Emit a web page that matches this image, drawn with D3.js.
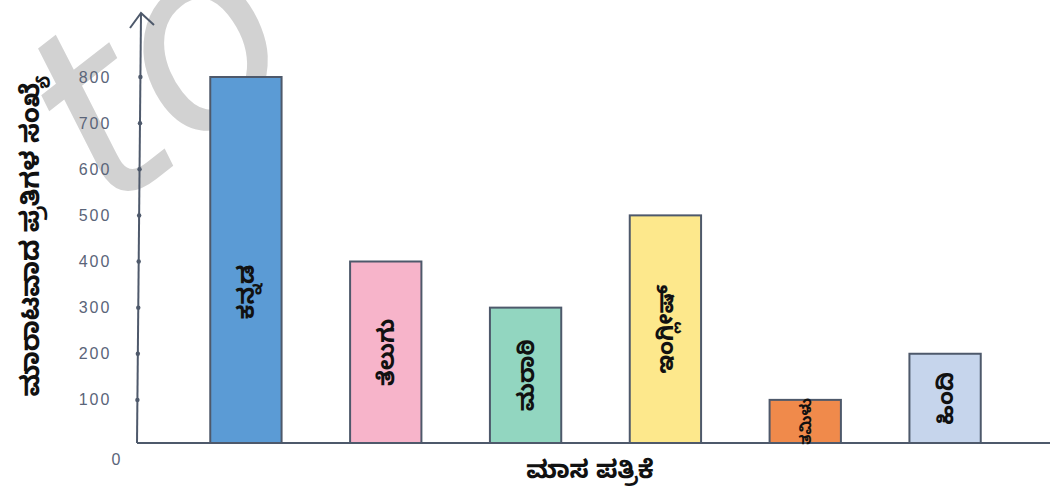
<!DOCTYPE html>
<html>
<head>
<meta charset="utf-8">
<script src="https://cdn.jsdelivr.net/npm/d3@7"></script>
<style>
  body { margin: 0; background: #fff; }
  svg { display: block; }
</style>
</head>
<body>
<div id="chart"></div>
<script>
const papers = ['ಕನ್ನಡ', 'ತೆಲುಗು', 'ಮರಾಠಿ', 'ಇಂಗ್ಲೀಷ್', 'ತಮಿಳು', 'ಹಿಂದಿ'];
const copiesSold = [800, 400, 300, 500, 100, 200];
const barColors = ['#5b9bd5', '#f7b4ca', '#92d6c0', '#fde88c', '#f08a4b', '#c6d5ec'];
const yTicks = [0, 100, 200, 300, 400, 500, 600, 700, 800];
const xTitle = 'ಮಾಸ ಪತ್ರಿಕೆ';
const yTitle = 'ಮಾರಾಟವಾದ ಪ್ರತಿಗಳ ಸಂಖ್ಯೆ';

const width = 1055;
const height = 496;
const axisColor = '#4e596b';
const kannadaFont = '"Noto Sans Kannada", "Noto Sans", sans-serif';

const svg = d3.select('#chart').append('svg')
  .attr('width', width)
  .attr('height', height);

// faint watermark from the scan
svg.append('text')
  .attr('transform', 'translate(110,215) rotate(-38)')
  .attr('font-family', 'DejaVu Sans, sans-serif')
  .attr('font-style', 'italic')
  .attr('font-size', 250)
  .attr('fill', '#d2d2d2')
  .text('to');

const x = d3.scaleBand()
  .domain(papers)
  .range([176, 1015])
  .paddingInner(0.49)
  .paddingOuter(0.245);

const y = d3.scaleLinear()
  .domain([0, 800])
  .range([446, 77]);

const data = papers.map((p, i) => ({ name: p, value: copiesSold[i], color: barColors[i] }));

// x axis line
svg.append('line')
  .attr('x1', 137).attr('x2', 1050)
  .attr('y1', 443).attr('y2', 443)
  .attr('stroke', axisColor)
  .attr('stroke-width', 2);

// y axis with arrow
svg.append('line')
  .attr('x1', 137).attr('x2', 141)
  .attr('y1', 443).attr('y2', 14)
  .attr('stroke', axisColor)
  .attr('stroke-width', 2);
svg.append('path')
  .attr('d', 'M130,28 L141,13 L154,25')
  .attr('fill', 'none')
  .attr('stroke', axisColor)
  .attr('stroke-width', 2);

const ticks = svg.append('g');
ticks.selectAll('circle')
  .data(yTicks.filter(t => t > 0))
  .enter().append('circle')
  .attr('cx', d => 137 + (443 - y(d)) / 429 * 4)
  .attr('cy', d => y(d))
  .attr('r', 2.2)
  .attr('fill', axisColor);

ticks.selectAll('text')
  .data(yTicks)
  .enter().append('text')
  .attr('x', d => (d === 0 ? 117 : 95))
  .attr('y', d => (d === 0 ? 459 : y(d)))
  .attr('dy', '0.35em')
  .attr('text-anchor', 'middle')
  .attr('font-family', '"Liberation Sans", sans-serif')
  .attr('font-size', 16)
  .attr('letter-spacing', 2)
  .attr('fill', '#5a6479')
  .text(d => d);

const bars = svg.append('g').selectAll('g')
  .data(data)
  .enter().append('g');

bars.append('rect')
  .attr('x', d => x(d.name))
  .attr('y', d => y(d.value))
  .attr('width', x.bandwidth())
  .attr('height', d => 443 - y(d.value))
  .attr('fill', d => d.color)
  .attr('stroke', axisColor)
  .attr('stroke-width', 2);

bars.append('text')
  .attr('transform', d => {
    const cx = x(d.name) + x.bandwidth() / 2;
    const cy = d.value === 800 ? 292 : (y(d.value) + 443) / 2;
    return `translate(${cx},${cy}) rotate(-90)`;
  })
  .attr('text-anchor', 'middle')
  .attr('dy', '0.35em')
  .attr('font-family', kannadaFont)
  .attr('font-weight', 'bold')
  .attr('font-size', d => (d.value === 100 ? 15 : 23))
  .attr('fill', '#111')
  .text(d => d.name);

svg.append('text')
  .attr('x', 590)
  .attr('y', 478)
  .attr('text-anchor', 'middle')
  .attr('font-family', kannadaFont)
  .attr('font-weight', 'bold')
  .attr('font-size', 25)
  .attr('fill', '#111')
  .text(xTitle);

svg.append('text')
  .attr('transform', 'translate(30,236) rotate(-90)')
  .attr('text-anchor', 'middle')
  .attr('dy', '0.35em')
  .attr('font-family', kannadaFont)
  .attr('font-weight', 'bold')
  .attr('font-size', 26)
  .attr('fill', '#111')
  .text(yTitle);
</script>
</body>
</html>
